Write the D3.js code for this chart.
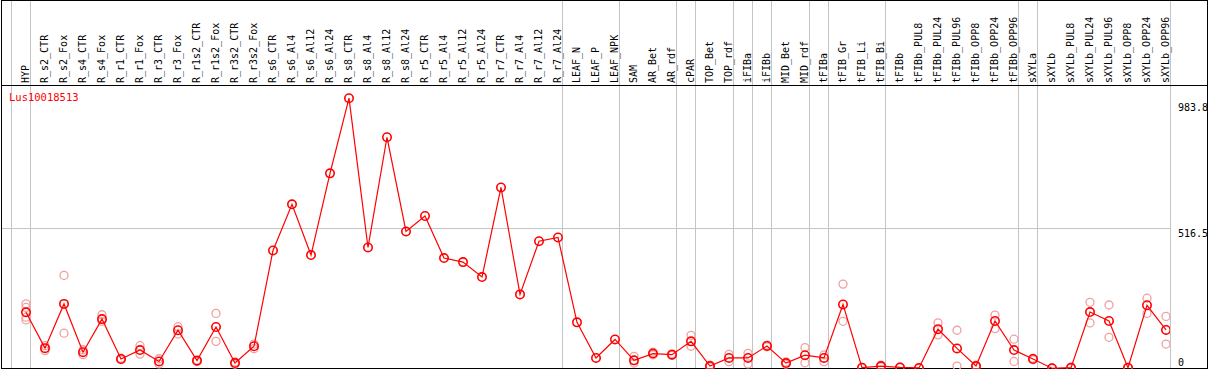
<!DOCTYPE html>
<html>
<head>
<meta charset="utf-8">
<script src="https://cdn.jsdelivr.net/npm/d3@7.9.0/dist/d3.min.js"></script>
<style>
  body { margin: 0; background: #fff; }
  svg { display: block; font-family: "DejaVu Sans Mono", monospace; }
</style>
</head>
<body>
<svg width="1209" height="370"></svg>
<script>
const gene = 'Lus10018513';

const categories = [
  'HYP', 'R_s2_CTR', 'R_s2_Fox', 'R_s4_CTR', 'R_s4_Fox', 'R_r1_CTR', 'R_r1_Fox',
  'R_r3_CTR', 'R_r3_Fox', 'R_r1s2_CTR', 'R_r1s2_Fox', 'R_r3s2_CTR', 'R_r3s2_Fox',
  'R_s6_CTR', 'R_s6_Al4', 'R_s6_Al12', 'R_s6_Al24', 'R_s8_CTR', 'R_s8_Al4',
  'R_s8_Al12', 'R_s8_Al24', 'R_r5_CTR', 'R_r5_Al4', 'R_r5_Al12', 'R_r5_Al24',
  'R_r7_CTR', 'R_r7_Al4', 'R_r7_Al12', 'R_r7_Al24', 'LEAF_N', 'LEAF_P', 'LEAF_NPK',
  'SAM', 'AR_Bet', 'AR_rdf', 'cPAR', 'TOP_Bet', 'TOP_rdf', 'iFIBa', 'iFIBb',
  'MID_Bet', 'MID_rdf', 'tFIBa', 'tFIB_Gr', 'tFIB_Li', 'tFIB_Bi', 'tFIBb',
  'tFIBb_PUL8', 'tFIBb_PUL24', 'tFIBb_PUL96', 'tFIBb_OPP8', 'tFIBb_OPP24', 'tFIBb_OPP96',
  'sXYLa', 'sXYLb', 'sXYLb_PUL8', 'sXYLb_PUL24', 'sXYLb_PUL96', 'sXYLb_OPP8',
  'sXYLb_OPP24', 'sXYLb_OPP96'
];

// mean expression per sample
const means = [
  207, 75, 238, 60, 182, 35, 68, 26, 141, 29, 153, 20, 82,
  435, 605, 418, 719, 996, 446, 852, 505, 562, 407, 392, 337,
  667, 273, 469, 483, 170, 39, 107,
  30, 55, 51, 100, 9, 39, 39, 83, 20, 49, 39, 236, 3, 9, 4,
  2, 145, 74, 9, 175, 68, 35, 1, 3, 208, 175, 3, 233, 142
];

// individual replicates (empty = hidden behind the mean)
const reps = [
  [238, 225, 189, 179], [84, 66], [343, 130], [69, 51], [198, 174], [38, 32], [84, 53],
  [36, 17], [154, 127], [32, 26], [203, 100], [24, 16], [90, 73],
  [], [], [], [], [], [], [], [], [], [], [], [],
  [], [], [], [], [], [], [],
  [45, 20], [60, 50], [54, 48], [122, 82], [12, 6], [52, 25], [56, 17], [86, 80],
  [24, 16], [77, 21], [50, 25], [311, 174], [4, 2], [12, 6], [5, 3],
  [3, 1], [168, 124], [141, 9], [12, 6], [197, 147], [108, 26], [38, 32], [2, 0],
  [5, 1], [244, 168], [234, 115], [4, 2], [259, 203], [192, 90]
];

// samples followed by a group separator
const groupEnds = [
  'HYP', 'R_r7_Al24', 'LEAF_NPK', 'AR_rdf', 'cPAR', 'TOP_rdf', 'iFIBa', 'iFIBb',
  'MID_rdf', 'tFIBa', 'tFIB_Bi', 'tFIBb_OPP96', 'sXYLa', 'sXYLb_OPP96'
];

const axisTicks = [0, 516.5, 983.8];

const W = 1209, H = 370;
const svg = d3.select('svg');

const x = d3.scalePoint().domain(categories).range([26, 1166]);
const y = d3.scaleLinear().domain([0, 983.8]).range([368.5, 101.5]);

svg.append('defs').append('clipPath').attr('id', 'plot')
  .append('rect').attr('x', 1).attr('y', 86).attr('width', 1169).attr('height', 283);

// grid
const grid = svg.append('g').attr('stroke', '#c4c4c4').attr('shape-rendering', 'crispEdges');
grid.append('line')
  .attr('x1', x(categories[0]) - x.step() + 4.5).attr('x2', x(categories[0]) - x.step() + 4.5)
  .attr('y1', 0).attr('y2', 369);
grid.selectAll('.v').data(groupEnds).join('line')
  .attr('x1', d => x(d) + 4.5).attr('x2', d => x(d) + 4.5)
  .attr('y1', 0).attr('y2', 369);
grid.append('line')
  .attr('x1', 1).attr('x2', x(categories[categories.length - 1]) + 4.5)
  .attr('y1', Math.round(y(516.5)) + 0.5).attr('y2', Math.round(y(516.5)) + 0.5);

// column labels
svg.append('g').selectAll('text').data(categories).join('text')
  .attr('transform', d => `translate(${x(d) + 3},83) rotate(-90)`)
  .attr('font-size', 10)
  .attr('fill', '#000')
  .text(d => d);

// frame
svg.append('rect').attr('x', 1.5).attr('y', 0.5).attr('width', 1206).attr('height', 368)
  .attr('fill', 'none').attr('stroke', '#000').attr('shape-rendering', 'crispEdges');
svg.append('line').attr('x1', 1).attr('x2', W - 1).attr('y1', 85.5).attr('y2', 85.5)
  .attr('stroke', '#000').attr('shape-rendering', 'crispEdges');

// right value axis
const axis = svg.append('g').attr('transform', 'translate(1177,0)')
  .call(d3.axisRight(y).tickValues(axisTicks).tickSize(0).tickPadding(1)
    .tickFormat(d => d === 0 ? '0' : d3.format('.1f')(d)));
axis.select('.domain').remove();
axis.selectAll('text')
  .attr('font-family', '"DejaVu Sans Mono", monospace')
  .attr('font-size', 10)
  .attr('fill', '#000')
  .attr('dy', d => d === 0 ? '-0.35em' : '0.85em');

// title
svg.append('text').attr('x', 9).attr('y', 101)
  .attr('font-size', 10.5).attr('fill', '#ff0000').text(gene);

const plot = svg.append('g').attr('clip-path', 'url(#plot)');

// replicate points
const repPts = reps.flatMap((r, i) => r.map(v => ({ c: categories[i], v })));
plot.append('g').selectAll('circle').data(repPts).join('circle')
  .attr('cx', d => x(d.c)).attr('cy', d => y(d.v)).attr('r', 4)
  .attr('fill', 'none').attr('stroke', '#f0a0a0').attr('stroke-width', 1.3);

// mean line
const line = d3.line().x((d, i) => x(categories[i])).y(d => y(d));
plot.append('path').datum(means).attr('d', line)
  .attr('fill', 'none').attr('stroke', '#ff0000').attr('stroke-width', 1.2);

plot.append('g').selectAll('circle').data(means).join('circle')
  .attr('cx', (d, i) => x(categories[i])).attr('cy', d => y(d)).attr('r', 4.2)
  .attr('fill', 'none').attr('stroke', '#ff0000').attr('stroke-width', 1.6);
</script>
</body>
</html>
